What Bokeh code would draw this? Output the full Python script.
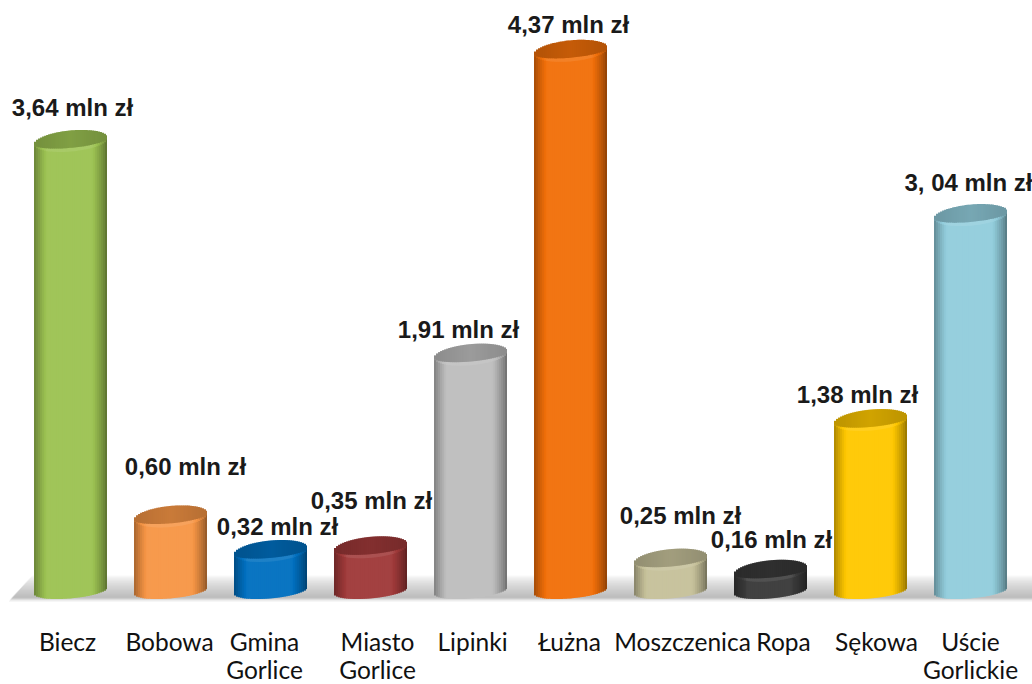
from bokeh.plotting import figure
from bokeh.models import Range1d, ColumnDataSource
from bokeh.core.properties import value
from bokeh.embed import file_html
from bokeh.resources import INLINE
import numpy as np

categories = ["Biecz", "Bobowa", "Gmina\nGorlice", "Miasto\nGorlice", "Lipinki", "Łużna",
              "Moszczenica", "Ropa", "Sękowa", "Uście\nGorlickie"]
values = [3.64, 0.60, 0.32, 0.35, 1.91, 4.37, 0.25, 0.16, 1.38, 3.04]
value_labels = ["3,64 mln zł", "0,60 mln zł", "0,32 mln zł", "0,35 mln zł", "1,91 mln zł",
                "4,37 mln zł", "0,25 mln zł", "0,16 mln zł", "1,38 mln zł", "3, 04 mln zł"]
colors = ["#9DC353", "#F79646", "#0070C0", "#A03A3A", "#BEBEBE",
          "#F2700A", "#C6C19A", "#3A3A3A", "#FFC800", "#92CDDC"]
# label placement (px relative to the bar's centre / top)
label_dx = [2, 15, 7, 1, -12, -2, 10, 1, -13, -2]
label_dy = [33, 50, 24, 47, 25, 26, 44, 31, 26, 33]
cat_dx = [-3, -1, -6, 7, 2, -1, 12, 13, 6, 0]

W, H = 1032, 684
PX_X, PX_Y = 100.0, 123.5          # px per category, px per mln
X0 = -0.70
Y_ZERO_PX = 590.0                  # px from top of the value 0
x_range = Range1d(X0, X0 + W / PX_X)
y_range = Range1d((Y_ZERO_PX - H) / PX_Y, Y_ZERO_PX / PX_Y)

p = figure(width=W, height=H, x_range=x_range, y_range=y_range,
           output_backend="svg", toolbar_location=None,
           min_border=0, outline_line_color=None, background_fill_color="white")
p.axis.visible = False
p.grid.visible = False


def shade(col, f):
    c = np.array([int(col[i:i + 2], 16) for i in (1, 3, 5)], float)
    out = c * f if f <= 1 else c + (255 - c) * (f - 1)
    return "#%02x%02x%02x" % tuple(int(min(255, max(0, v))) for v in out)


# floor shadow
n_rows = 26
fl_top, fl_bot = 15.0 / PX_Y, -11.0 / PX_Y
edges = np.linspace(fl_top, fl_bot, n_rows + 1)
sh = dict(left=[], right=[], bottom=[], top=[], color=[])
for k in range(n_rows):
    t = (k + .5) / n_rows
    g = 255 - 75 * t ** .7 if t < .85 else 255 - 75 * .85 ** .7 * (1 - (t - .85) / .15)
    inset = (1 - t) * 24 / PX_X
    sh["left"].append(X0 + 8 / PX_X + inset)
    sh["right"].append(X0 + W / PX_X)
    sh["bottom"].append(edges[k + 1] - 0.5 / PX_Y)
    sh["top"].append(edges[k])
    sh["color"].append("#%02x%02x%02x" % (int(g), int(g), int(g)))
p.quad(source=ColumnDataSource(sh), left="left", right="right", bottom="bottom", top="top",
       fill_color="color", line_color=None)

# cylinders
A = 36.5 / PX_X      # half width
B = 10.5 / PX_Y      # half height of the ellipse
TILT = 0.09 * PX_X / PX_Y
N = 36
over = 1.0 / PX_X
side = dict(left=[], right=[], bottom=[], top=[], color=[])
lip = dict(left=[], right=[], bottom=[], top=[], color=[])
cap = dict(left=[], right=[], bottom=[], top=[], color=[])
for i, (v, col) in enumerate(zip(values, colors)):
    u = np.linspace(-1, 1, N + 1)
    for j in range(N):
        um = (u[j] + u[j + 1]) / 2
        w = np.sqrt(max(0, 1 - um * um))
        tilt = TILT * um * A
        rim = max(0.0, min(1.0, (1 - abs(um + .03)) * 2.5))
        f = 0.62 + 0.42 * rim ** .8
        le, ri = i + u[j] * A, i + u[j + 1] * A + (over if j < N - 1 else 0)
        side["left"].append(le)
        side["right"].append(ri)
        side["bottom"].append(tilt - B * w * .75)
        side["top"].append(v + tilt)
        side["color"].append(shade(col, f))
        lip["left"].append(le)
        lip["right"].append(ri)
        lip["bottom"].append(v + tilt - B * w)
        lip["top"].append(v + tilt)
        lip["color"].append(shade(col, 0.70 + 0.42 * rim ** .8))
        cap["left"].append(le)
        cap["right"].append(ri)
        cap["bottom"].append(v + tilt - B * w * .65)
        cap["top"].append(v + tilt + B * w)
        cap["color"].append(shade(col, 0.74 + 0.08 * (1 - abs(um))))
for d in (side, lip, cap):
    p.quad(source=ColumnDataSource(d), left="left", right="right", bottom="bottom", top="top",
           fill_color="color", line_color=None)

# value labels
xs = list(range(len(values)))
p.text(x=xs, y=values, text=value_labels, x_offset=label_dx, y_offset=[-d for d in label_dy],
       text_align="center", text_baseline="middle", text_font=value("Liberation Sans"),
       text_font_size="24px", text_font_style="bold", text_color="#1a1a1a")

# category labels, one glyph per line
line_x, line_text, line_dx, line_dy = [], [], [], []
for i, (cat, dx) in enumerate(zip(categories, cat_dx)):
    for n, part in enumerate(cat.split("\n")):
        line_x.append(i)
        line_text.append(part)
        line_dx.append(dx)
        line_dy.append(51 + 28 * n)
p.text(x=line_x, y=[0] * len(line_x), text=line_text, x_offset=line_dx, y_offset=line_dy,
       text_align="center", text_baseline="middle", text_font=value("Lato"),
       text_font_size="24.5px", text_color="#111111")

open("out.html", "w").write(file_html(p, INLINE))
